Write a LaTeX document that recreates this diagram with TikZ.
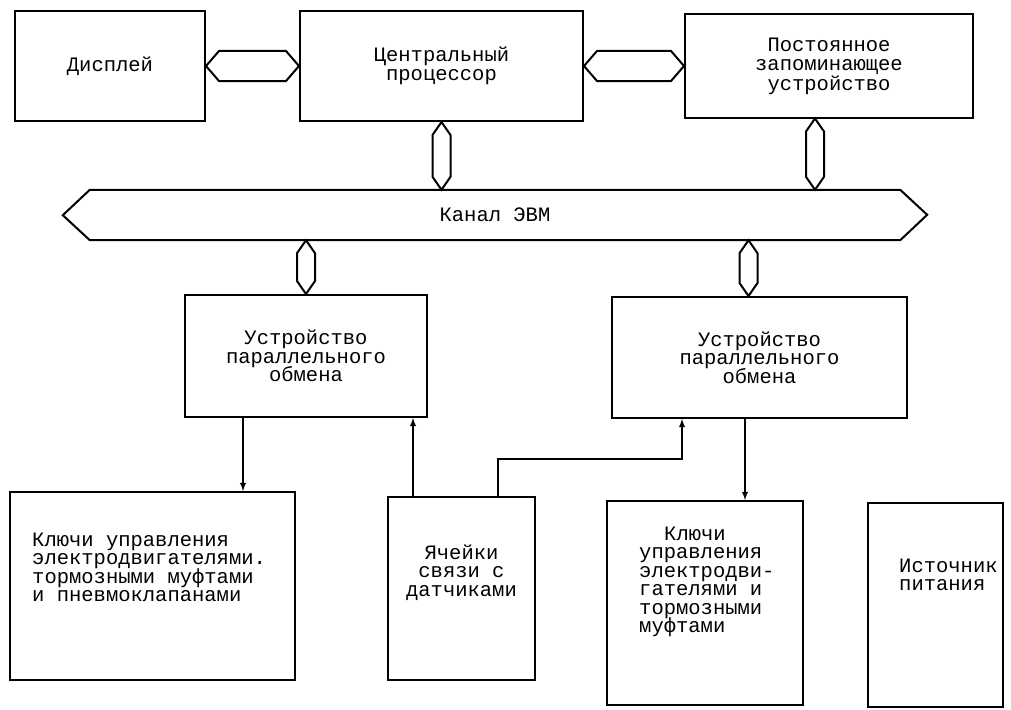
\documentclass[tikz,border=0pt]{standalone}
\usepackage{fontspec}
\setmonofont{Liberation Mono}
\usepackage{tikz}
\usetikzlibrary{calc}
\usetikzlibrary{positioning}

\begin{document}
\begin{tikzpicture}
    [
    x=1pt, y=-1pt,
    box/.style={draw, line width=2pt, inner sep=0pt, align=center,
      font={\ttfamily\fontsize{20.5pt}{#1}\selectfont\setlength{\lineskiplimit}{-100pt}}},
    box/.default=19pt,
    txt/.style={inner sep=0pt,
      font={\ttfamily\fontsize{20.5pt}{#1}\selectfont\setlength{\lineskiplimit}{-100pt}}},
    txt/.default=18.5pt,
    link/.style={line width=2pt},
    arr/.style={-latex, line width=1.8pt}
    ]
    \useasboundingbox (0,0) rectangle (1011,709);

    % upper row
    \node (disp) at (110,66) [box, minimum width=190pt, minimum height=109pt] {Дисплей};
    \node (cpu) at (441.5,66) [box, minimum width=283pt, minimum height=110pt] {Центральный\\процессор};
    \node (rom) at (829,66) [box=19.5pt, minimum width=288pt, minimum height=103pt] {Постоянное\\запоминающее\\устройство};

    % bus
    \node (bus) at (495,215) [inner sep=0pt, minimum width=810pt, minimum height=50pt,
      font=\ttfamily\fontsize{20.5pt}{20pt}\selectfont] {Канал ЭВМ};
    \draw [link] (bus.north west) -- (bus.north east) -- ++(27pt,-25pt) -- (bus.south east)
      -- (bus.south west) -- ++(-27pt,25pt) -- cycle;

    % parallel exchange units
    \node (upo1) at (306,356) [box=18.5pt, minimum width=242pt, minimum height=122pt] {Устройство\\параллельного\\обмена};
    \node (upo2) at (759.5,357.5) [box=18.5pt, minimum width=295pt, minimum height=121pt] {Устройство\\параллельного\\обмена};

    % lower row
    \node (keys1) at (152.5,586) [box, minimum width=285pt, minimum height=188pt] {};
    \node (cells) at (461.5,588.5) [box, minimum width=147pt, minimum height=183pt] {};
    \node (keys2) at (705,603) [box, minimum width=196pt, minimum height=204pt] {};
    \node (power) at (935.5,605) [box, minimum width=135pt, minimum height=204pt] {};

    \node (keys1-t) [txt, align=left, below right=110.5pt and 23pt of keys1.north west, anchor=base west]
      {Ключи управления\\электродвигателями.\\тормозными муфтами\\и пневмоклапанами};
    \node (cells-t) [txt, align=center, below=100pt of cells.north, anchor=base]
      {Ячейки\\связи с\\датчиками};
    \node (keys2-t) [txt, align=left, below right=132.5pt and 33pt of keys2.north west, anchor=base west]
      {\hspace*{25pt}Ключи\\управления\\электродви-\\гателями и\\тормозными\\муфтами};
    \node (power-t) [txt, align=left, below right=88.5pt and 32pt of power.north west, anchor=base west]
      {Источник\\питания};

    % bus links
    \foreach \l/\r in {disp/cpu, cpu/rom}
      \draw [link] (\l.east) -- ++(13pt,15pt) -- ($(\r.west)+(-13pt,15pt)$) -- (\r.west)
        -- ++(-13pt,-15pt) -- ($(\l.east)+(13pt,-15pt)$) -- cycle;

    \coordinate (cb) at (cpu.south |- bus.north);
    \coordinate (rt) at ([xshift=-14pt]rom.south);
    \coordinate (rb) at (rt |- bus.north);
    \coordinate (u1t) at (upo1.north |- bus.south);
    \coordinate (u2b) at ([xshift=-11pt]upo2.north);
    \coordinate (u2t) at (u2b |- bus.south);
    \foreach \t/\b in {cpu.south/cb, rt/rb, u1t/upo1.north, u2t/u2b}
      \draw [link] (\t) -- ++(-9pt,-13pt) -- ($(\b)+(-9pt,13pt)$) -- (\b)
        -- ++(9pt,13pt) -- ($(\t)+(9pt,-13pt)$) -- cycle;

    % signal lines
    \coordinate (k1in) at ([xshift=-63pt]upo1.south);
    \draw [arr] (k1in) -- (k1in |- keys1.north);
    \coordinate (c1out) at ([xshift=-48.5pt]cells.north);
    \draw [arr] (c1out) -- (c1out |- upo1.south);
    \coordinate (c2out) at ([xshift=36.5pt]cells.north);
    \coordinate (c2in) at ([xshift=-77.5pt]upo2.south);
    \draw [arr] (c2out) -- ++(0,37pt) -| (c2in);
    \coordinate (k2in) at ([xshift=-14.5pt]upo2.south);
    \draw [arr] (k2in) -- (k2in |- keys2.north);
\end{tikzpicture}
\end{document}
